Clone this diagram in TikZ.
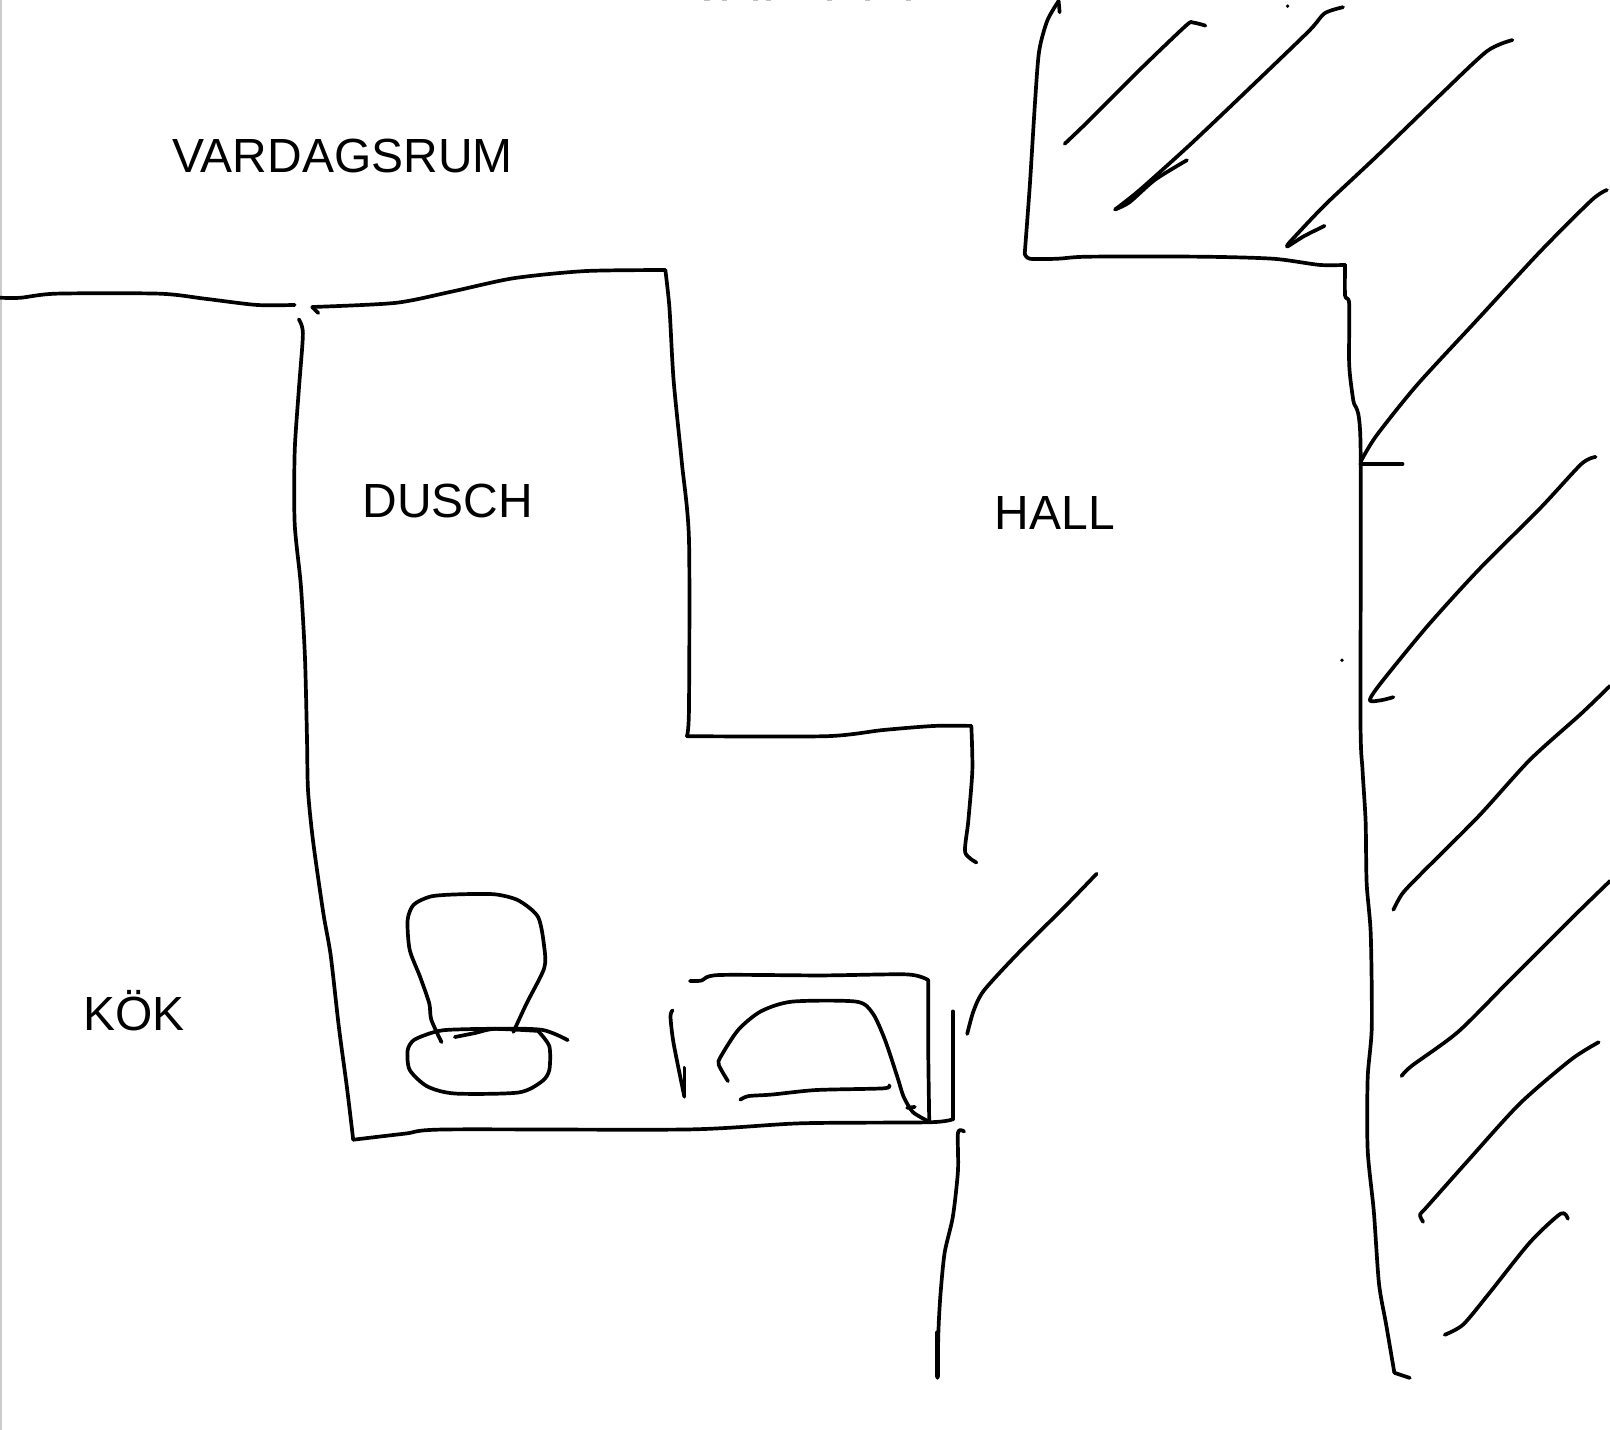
\documentclass[tikz,border=0pt]{standalone}
\usepackage{fontspec}
\setmainfont{Liberation Sans}
\tikzset{
  pen/.style={draw=black,line width=0.036cm,line cap=round,line join=round},
  lbl/.style={anchor=base west,inner sep=0pt,outer sep=0pt,font=\fontsize{13.28pt}{16pt}\selectfont,text=black}
}
\newcommand{\sk}[2][]{\draw[pen,#1] plot[smooth,tension=0.45] coordinates {#2};}
\begin{document}
\begin{tikzpicture}[x=0.01cm,y=-0.01cm]
\useasboundingbox (0,0) rectangle (1568,1392.7);
\fill[white] (0,0) rectangle (1568,1392.7);
\draw[black!20,line width=0.02cm] (0.5,0) -- (0.5,1392.7);
\begin{scope}
\clip (0,0) rectangle (1568,1392.7);
% cut-off marks at the top edge
\foreach \mx in {686,703,733,746,805,842,882} \draw[black!25,line width=0.02cm] (\mx,0) -- (\mx+5,0);
% upper left wall
\sk{(0,290)(20,290)(55,286)(155,286)(200,291)(250,297)(287,297)}
\sk{(310,305)(304,299)}
\sk{(304,299)(385,295)(440,284)(500,271)(570,264)(648,263)}
\sk{(648,263)(652,300)(656,370)(664,450)(671,525)(671,690)(669,717)}
\sk{(669,717)(805,717)(860,711)(910,707)(946,707)}
\sk{(946,707)(947,750)(943,800)(940,830)(951,840)}
% long left wall of DUSCH
\sk{(291,311)(295,325)(291,380)(287,440)(287,510)(293,570)(297,640)(299,720)(300,770)(305,820)(315,890)(322,930)(330,1000)(338,1060)(344,1110)}
\sk{(344,1110)(395,1104)(435,1100)(670,1100)(780,1094)(905,1093)(928,1090)}
\draw[pen] (928,1090) -- (928,985);
% door strokes
\sk{(1068,851)(1040,880)(990,930)(958,965)(948,985)(942,1007)}
\sk{(939,1102)(933,1103)(933,1140)(928,1185)(920,1220)(916,1260)(914,1295)(913,1342)}
\draw[pen,line width=0.05cm] (913,1298) -- (913,1340);
% top wall and right wall
\draw[pen] (1032,12) -- (1031,1);
\sk{(1031,1)(1020,20)(1012,50)(1008,100)(1003,180)(998,247)}
\sk{(998,247)(1003,252)(1030,252)(1060,250)(1170,250)(1240,252)(1285,258)(1310,258)}
\sk{(1310,258)(1310,288)(1314,296)(1314,355)(1318,390)(1325,430)(1325,700)(1327,750)(1330,800)(1331,860)(1335,910)(1336,1000)(1332,1050)(1332,1120)(1338,1180)(1343,1250)(1350,1290)(1358,1337)}
\sk{(1358,1337)(1373,1342)}
% hatching
\sk{(1037,140)(1060,118)(1110,68)(1155,25)(1162,22)(1174,25)}
\sk{(1308,7)(1290,13)(1275,30)(1220,83)(1160,140)(1110,185)(1086,204)}
\sk{(1086,204)(1100,197)(1125,175)(1156,156)}
\sk{(1473,39)(1448,50)(1400,95)(1340,153)(1290,200)(1255,237)}
\sk{(1255,237)(1254,240)(1270,230)(1290,220)}
\sk{(1565,185)(1550,195)(1500,245)(1440,310)(1380,375)(1340,425)(1325,450)}
\draw[pen] (1325,452) -- (1366,452);
\sk{(1554,445)(1540,452)(1500,495)(1440,555)(1390,610)(1345,665)(1334,682)(1345,682)(1357,679)}
\sk{(1568,668)(1540,695)(1490,740)(1440,795)(1385,850)(1366,870)(1357,886)}
\sk{(1568,858)(1530,895)(1470,955)(1420,1005)(1375,1038)(1365,1048)}
\sk{(1557,1015)(1530,1032)(1480,1075)(1430,1130)(1390,1175)(1383,1183)(1386,1190)}
\sk{(1527,1187)(1520,1182)(1490,1210)(1450,1260)(1425,1290)(1407,1300)}
\fill[black] (1254,6) circle (1.8);
\fill[black] (1307,643) circle (1.8);
% toilet
\sk{(430,1015)(420,993)(418,977)(409,951)(399,925)(397,896)(403,881)(420,873)(447,871)(482,871)(505,877)(524,893)(530,922)(530,943)(513,977)(500,1005)}
\sk{(443,1010)(463,1006)(482,1002)(528,1003)(553,1013)}
\sk{(524,1004)(535,1019)(535,1042)(528,1053)(505,1064)(443,1065)(416,1058)(399,1042)(397,1023)(403,1013)(420,1006)(436,1003)(482,1002)(524,1004)}
% sink / bath
\sk{(655,984)(653,990)(656,1016)(666.5,1068)}
\draw[pen] (666.5,1068) -- (666.5,1040);
\sk{(672,955.4)(683,955)(700,949.6)(800,950)(883.5,949)(904,954.5)}
\sk{(904,954.5)(904,1020)(905,1092)}
\sk{(709,1053)(700,1037)(702,1029)(719,1003)(741,985)(771.5,975.5)(834,975.5)(850,987)(862,1013)(874,1049)(880,1068)(889,1083)(904,1092)}
\draw[pen] (883.5,1079) -- (891,1078);
\sk{(721,1071)(729,1067.5)(752,1066)(795,1061.6)(860,1060)(866,1057)}
\end{scope}
% labels
\node[lbl] (vardagsrum) at (168,168) {VARDAGSRUM};
\node[lbl] (dusch) at (353,504) {DUSCH};
\node[lbl] (hall) at (969,516) {HALL};
\node[lbl] (kok) at (81,1004) {KÖK};
\end{tikzpicture}
\end{document}
